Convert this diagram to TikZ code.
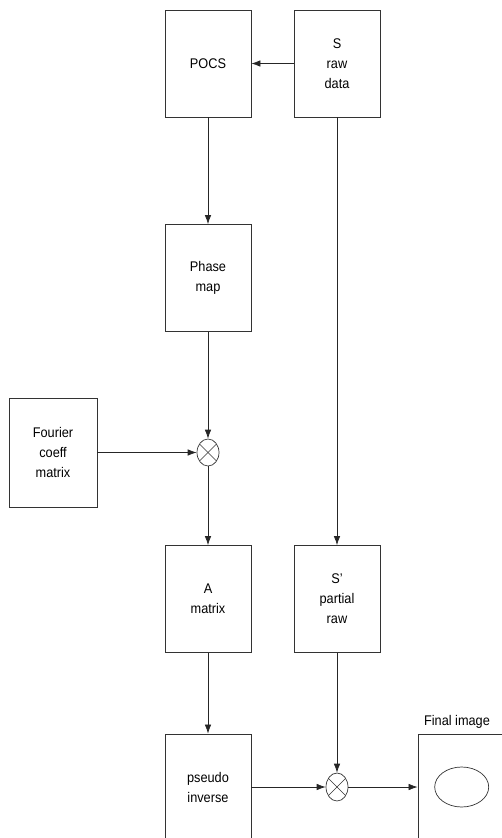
\documentclass[tikz,border=0pt]{standalone}
\usepackage{fontspec}
\setmainfont{Liberation Sans}[FakeStretch=0.91]
\usetikzlibrary{arrows.meta,shapes.geometric}
\begin{document}
\begin{tikzpicture}[x=1pt,y=-1pt,
  blk/.style={draw=black!80, line width=0.8pt, minimum width=86pt, minimum height=107pt, inner sep=0pt, align=center, font=\fontsize{14}{20}\selectfont},
  mult/.style={draw=black!80, line width=0.7pt, ellipse, minimum width=22pt, minimum height=27pt, inner sep=0pt},
  conn/.style={draw=black!85, line width=0.7pt, -{Latex[length=9pt,width=6.5pt]}},
  crs/.style={draw=black!80, line width=0.6pt, shorten <=1pt, shorten >=1pt}]
\useasboundingbox (0,0) rectangle (502,838);
\clip (0,0) rectangle (502,838);
\node[blk] (pocs) at (208,63.5) {POCS};
\node[blk] (sraw) at (337,63.5) {S\\raw\\data};
\node[blk] (phase) at (208,278) {Phase\\map};
\node[blk, minimum width=88pt, minimum height=109pt] (four) at (53,452.5) {Fourier\\coeff\\matrix};
\node[mult] (m1) at (208,452.5) {};
\node[blk] (amat) at (208,599) {A\\matrix};
\node[blk] (spart) at (337,599) {S'\\partial\\raw};
\node[blk, minimum height=106pt] (pinv) at (208,787) {pseudo\\inverse};
\node[mult, minimum height=28pt] (m2) at (337,787) {};
\node[blk, minimum height=106pt] (final) at (461,787) {};
\node[draw=black!80, line width=0.7pt, ellipse, minimum width=54pt, minimum height=40pt, inner sep=0pt] (img) at (461.7,787) {};
\node[font=\fontsize{14}{16}\selectfont] (flab) at (457,722) {Final image};
\foreach \m in {m1,m2} {
  \draw[crs] (\m.45) -- (\m.225);
  \draw[crs] (\m.135) -- (\m.315);
}
\draw[conn] (sraw.west) -- (pocs.east);
\draw[conn] (pocs.south) -- (phase.north);
\draw[conn] (phase.south) -- (m1.north);
\draw[conn] (four.east) -- (m1.west);
\draw[conn] (m1.south) -- (amat.north);
\draw[conn] (sraw.south) -- (spart.north);
\draw[conn] (amat.south) -- (pinv.north);
\draw[conn] (spart.south) -- (m2.north);
\draw[conn] (pinv.east) -- (m2.west);
\draw[conn] (m2.east) -- (final.west);
\end{tikzpicture}
\end{document}
